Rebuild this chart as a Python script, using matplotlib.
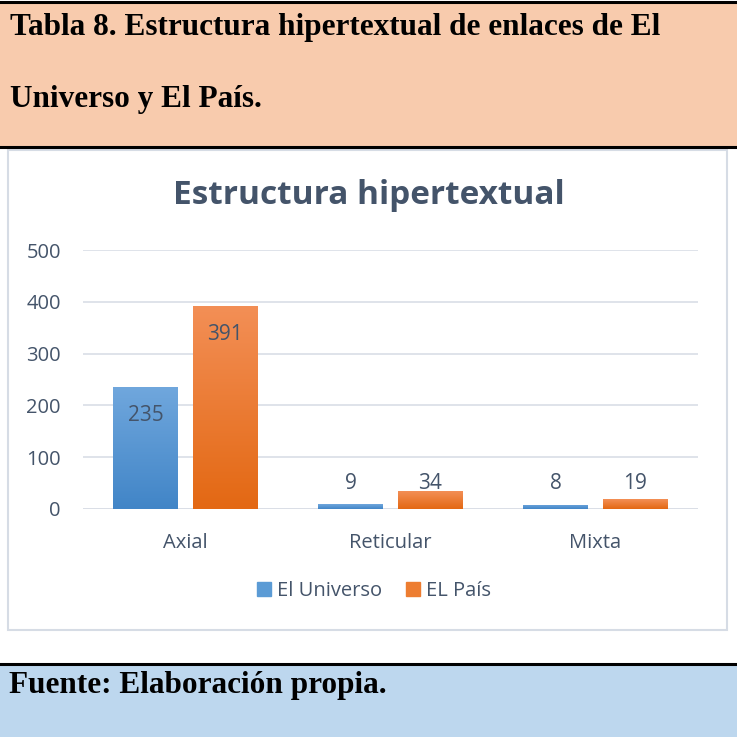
import numpy as np
import matplotlib.pyplot as plt
from matplotlib.patches import Rectangle
from matplotlib.colors import LinearSegmentedColormap

# data
categories = ["Axial", "Reticular", "Mixta"]
el_universo = [235, 9, 8]
el_pais = [391, 34, 19]
series_names = ["El Universo", "EL País"]

W, H = 737, 737
fig = plt.figure(figsize=(W / 100, H / 100), dpi=100)
fig.patch.set_facecolor("white")


def fx(px):
    return px / W


def fy(py):
    return 1 - py / H


# header band (peach) and footer band (light blue)
bg = fig.add_axes([0, 0, 1, 1])
bg.set_xlim(0, W)
bg.set_ylim(H, 0)
bg.axis("off")
bg.add_patch(Rectangle((0, 2), W, 145, facecolor="#F8CBAD", edgecolor="none"))
bg.plot([0, W], [2, 2], color="black", lw=2.2)
bg.plot([0, W], [147, 147], color="black", lw=2.2)
bg.add_patch(Rectangle((0, 664), W, 73, facecolor="#BDD7EE", edgecolor="none"))
bg.plot([0, W], [664, 664], color="black", lw=2.2)
# chart frame
bg.add_patch(Rectangle((8.5, 149.5), 719, 480, facecolor="white",
                       edgecolor="#D6DCE5", lw=1.5))

serif = dict(family="Liberation Serif", fontweight="bold", color="black")
bg.text(10, 27, "Tabla 8. Estructura hipertextual de enlaces de El",
        fontsize=22.5, va="center", ha="left", **serif)
bg.text(10, 99, "Universo y El País.", fontsize=22.5, va="center", ha="left", **serif)
bg.text(9, 686, "Fuente: Elaboración propia.", fontsize=22.5, va="center",
        ha="left", **serif)

# chart title
fig.text(0.5, fy(195), "Estructura hipertextual", ha="center", va="center",
         fontsize=24, fontweight="bold", color="#44546A", family="Open Sans")

ax = fig.add_axes([fx(83), fy(509), fx(698 - 83), (509 - 250) / H])
ax.set_xlim(-0.5, 2.5)
ax.set_ylim(0, 500)
ax.set_yticks(range(0, 501, 100))
ax.set_xticks(range(len(categories)))
ax.set_xticklabels(categories)
for s in ax.spines.values():
    s.set_visible(False)
ax.grid(axis="y", color="#D9DEE6", lw=1.2)
ax.set_axisbelow(True)
ax.axhline(0, color="#D9DEE6", lw=1.2)
ax.tick_params(length=0, labelsize=14.5, labelcolor="#44546A")
ax.tick_params(axis="y", pad=16)
ax.tick_params(axis="x", pad=17)
for t in ax.get_xticklabels() + ax.get_yticklabels():
    t.set_family("Open Sans")

x = np.arange(len(categories))
width = 0.317
offset = 0.193
blue_cmap = LinearSegmentedColormap.from_list("b", ["#4185C7", "#70A7DD"])
orange_cmap = LinearSegmentedColormap.from_list("o", ["#E36813", "#F38F56"])
grad = np.linspace(0, 1, 256).reshape(-1, 1)

for vals, sign, cmap, solid in [(el_universo, -1, blue_cmap, "#5B9BD5"),
                                (el_pais, 1, orange_cmap, "#ED7D31")]:
    bars = ax.bar(x + sign * offset, vals, width, color=solid, zorder=2)
    for b, v in zip(bars, vals):
        x0 = b.get_x()
        im = ax.imshow(grad, cmap=cmap, origin="lower", aspect="auto",
                       extent=[x0, x0 + b.get_width(), 0, v], zorder=3)
        im.set_clip_path(b)
        ax.text(b.get_x() + b.get_width() / 2, max(v - 54, 50), str(v),
                ha="center", va="center", fontsize=15, color="#44546A",
                family="Open Sans", zorder=4)
ax.set_xlim(-0.5, 2.5)
ax.set_ylim(0, 500)

# legend
handles = [Rectangle((0, 0), 1, 1, color="#5B9BD5"),
           Rectangle((0, 0), 1, 1, color="#ED7D31")]
leg = fig.legend(handles, series_names, loc="center", ncol=2,
                 bbox_to_anchor=(fx(374), fy(591)), frameon=False,
                 handlelength=0.7, handleheight=0.7, handletextpad=0.3,
                 columnspacing=1.2, prop={"family": "Open Sans", "size": 14.5})
for t in leg.get_texts():
    t.set_color("#44546A")

fig.savefig("out.png", dpi=100)
